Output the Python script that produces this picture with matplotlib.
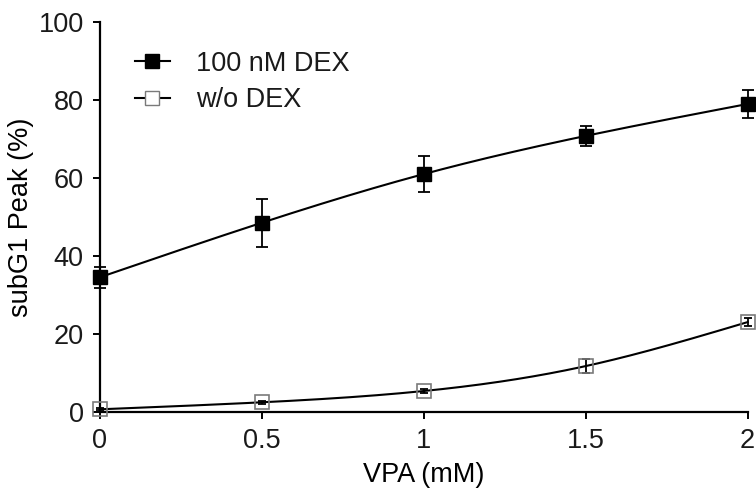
import numpy as np
import matplotlib
matplotlib.use("Agg")
import matplotlib.pyplot as plt

plt.rcParams["font.family"] = ["Liberation Sans", "DejaVu Sans"]
plt.rcParams["text.color"] = "#1a1a1a"

vpa = [0, 0.5, 1, 1.5, 2]
dex_mean = [34.5, 48.5, 61.0, 70.8, 79.0]
dex_err = [2.7, 6.2, 4.6, 2.6, 3.6]
nodex_mean = [0.6, 2.4, 5.3, 11.7, 23.0]
nodex_err = [0.3, 0.4, 0.6, 1.7, 1.0]


def smooth(x, y, n=200):
    """Natural cubic spline through the points, for drawing the curve."""
    x = np.asarray(x, float)
    y = np.asarray(y, float)
    k = len(x)
    h = np.diff(x)
    A = np.zeros((k, k))
    b = np.zeros(k)
    A[0, 0] = A[-1, -1] = 1
    for i in range(1, k - 1):
        A[i, i - 1] = h[i - 1]
        A[i, i] = 2 * (h[i - 1] + h[i])
        A[i, i + 1] = h[i]
        b[i] = 3 * ((y[i + 1] - y[i]) / h[i] - (y[i] - y[i - 1]) / h[i - 1])
    c = np.linalg.solve(A, b)
    xs = np.linspace(x[0], x[-1], n)
    idx = np.clip(np.searchsorted(x, xs) - 1, 0, k - 2)
    dx = xs - x[idx]
    hb = (y[idx + 1] - y[idx]) / h[idx] - h[idx] * (2 * c[idx] + c[idx + 1]) / 3
    d = (c[idx + 1] - c[idx]) / (3 * h[idx])
    ys = y[idx] + hb * dx + c[idx] * dx ** 2 + d * dx ** 3
    return xs, ys


fig = plt.figure(figsize=(7.56, 4.93), dpi=100)
ax = fig.add_axes([0.132, 0.165, 0.857, 0.79])

xs, ys = smooth(vpa, dex_mean)
ax.plot(xs, ys, color="black", lw=1.5, clip_on=False)
xs, ys = smooth(vpa, nodex_mean)
ax.plot(xs, ys, color="black", lw=1.5, clip_on=False)

ax.errorbar(vpa, dex_mean, yerr=dex_err, fmt="none", ecolor="black",
            elinewidth=1.3, capsize=4, capthick=1.3, clip_on=False)
ax.errorbar(vpa, nodex_mean, yerr=nodex_err, fmt="none", ecolor="black",
            elinewidth=1.3, capsize=3, capthick=1.3, clip_on=False)

ax.plot(vpa, dex_mean, "s", ms=10, color="black", clip_on=False, zorder=3)
ax.plot(vpa, nodex_mean, "s", ms=10, mfc="none", mec="#7a7a7a", mew=1.2,
        clip_on=False, zorder=3)

# legend handles
ax.plot([], [], "s-", color="black", ms=9.5, lw=1.5, label="100 nM DEX")
ax.plot([], [], "s-", color="black", ms=9.5, lw=1.5, mfc="white",
        mec="#7a7a7a", label="w/o DEX")
ax.legend(loc="upper left", bbox_to_anchor=(0.164, 0.919),
          bbox_transform=fig.transFigure, borderaxespad=0, frameon=False,
          fontsize=19.5, handlelength=1.3, handletextpad=0.95,
          labelspacing=0.38)

ax.set_xlim(0, 2)
ax.set_ylim(0, 100)
ax.set_xticks([0, 0.5, 1, 1.5, 2])
ax.set_xticklabels(["0", "0.5", "1", "1.5", "2"])
ax.set_yticks([0, 20, 40, 60, 80, 100])
ax.spines["top"].set_visible(False)
ax.spines["right"].set_visible(False)
ax.spines["left"].set_linewidth(1.6)
ax.spines["bottom"].set_linewidth(1.6)
ax.tick_params(labelsize=19.5, width=1.4, length=5, pad=6.5, color="black",
               labelcolor="#1a1a1a")
ax.set_xlabel("VPA (mM)", fontsize=19.5, labelpad=6)
ax.set_ylabel("subG1 Peak (%)", fontsize=19.5, labelpad=3)

fig.savefig("out.png", dpi=100)
